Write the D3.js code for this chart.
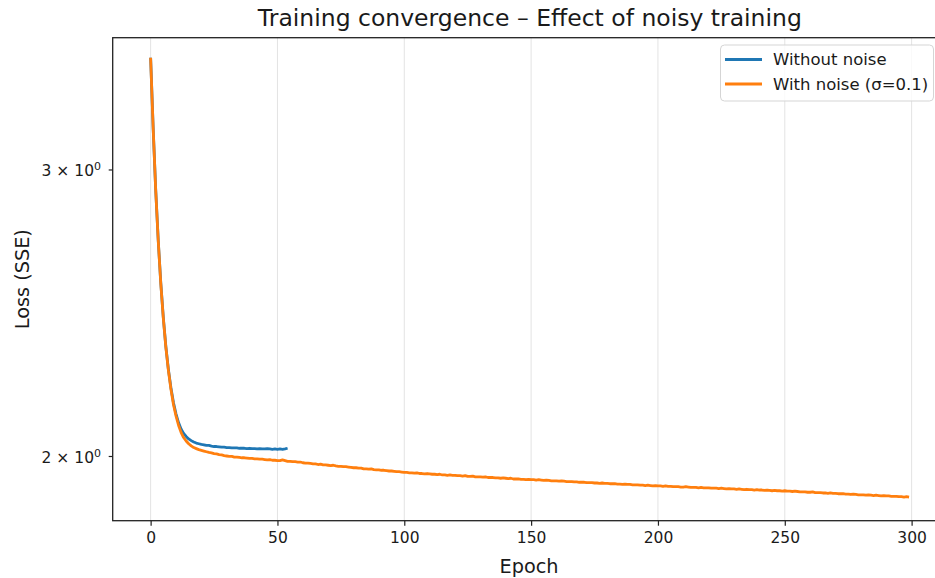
<!DOCTYPE html>
<html lang="en">
<head>
<meta charset="utf-8" />
<script src="https://cdn.jsdelivr.net/npm/d3@7"></script>
<style>
    body { margin: 0; background: #fff; }
    svg { display: block; overflow: hidden; }
    text { font-family: "DejaVu Sans", sans-serif; fill: #1a1a1a; }
</style>
</head>
<body>
<script>
// loss per epoch
var withoutNoise = [
    3.514, 3.182, 2.916, 2.714, 2.556, 2.433, 2.336, 2.261, 2.203, 2.157,
    2.123, 2.097, 2.078, 2.065, 2.056, 2.049, 2.044, 2.040, 2.037, 2.035,
    2.033, 2.032, 2.030, 2.030, 2.028, 2.027, 2.027, 2.026, 2.025, 2.025,
    2.024, 2.024, 2.023, 2.023, 2.023, 2.022, 2.022, 2.022, 2.021, 2.022,
    2.021, 2.021, 2.020, 2.021, 2.020, 2.020, 2.021, 2.020, 2.019, 2.020,
    2.019, 2.020, 2.019, 2.020, 2.022
];

var withNoise = [
    3.514, 3.181, 2.914, 2.712, 2.554, 2.431, 2.333, 2.258, 2.199, 2.151,
    2.117, 2.089, 2.068, 2.053, 2.043, 2.035, 2.029, 2.024, 2.021, 2.018,
    2.016, 2.014, 2.012, 2.010, 2.009, 2.007, 2.006, 2.004, 2.003, 2.001,
    2.000, 1.999, 1.999, 1.997, 1.997, 1.996, 1.995, 1.995, 1.994, 1.993,
    1.993, 1.992, 1.992, 1.991, 1.991, 1.990, 1.989, 1.990, 1.988, 1.988,
    1.987, 1.987, 1.989, 1.987, 1.985, 1.985, 1.984, 1.984, 1.983, 1.983,
    1.981, 1.980, 1.980, 1.979, 1.978, 1.978, 1.976, 1.977, 1.975, 1.975,
    1.974, 1.973, 1.974, 1.972, 1.971, 1.971, 1.970, 1.970, 1.969, 1.968,
    1.967, 1.967, 1.966, 1.966, 1.964, 1.964, 1.963, 1.964, 1.962, 1.961,
    1.961, 1.960, 1.960, 1.959, 1.958, 1.958, 1.957, 1.956, 1.956, 1.955,
    1.954, 1.954, 1.953, 1.953, 1.952, 1.953, 1.951, 1.951, 1.950, 1.951,
    1.950, 1.949, 1.949, 1.948, 1.949, 1.947, 1.947, 1.946, 1.947, 1.946,
    1.946, 1.945, 1.945, 1.944, 1.945, 1.943, 1.943, 1.944, 1.942, 1.942,
    1.942, 1.941, 1.942, 1.940, 1.940, 1.940, 1.939, 1.939, 1.938, 1.939,
    1.938, 1.937, 1.938, 1.936, 1.936, 1.936, 1.935, 1.935, 1.934, 1.935,
    1.934, 1.934, 1.933, 1.934, 1.933, 1.932, 1.933, 1.932, 1.931, 1.931,
    1.931, 1.930, 1.931, 1.930, 1.929, 1.929, 1.929, 1.928, 1.928, 1.927,
    1.927, 1.927, 1.926, 1.926, 1.926, 1.925, 1.925, 1.924, 1.925, 1.924,
    1.924, 1.923, 1.923, 1.923, 1.922, 1.922, 1.921, 1.922, 1.921, 1.921,
    1.920, 1.920, 1.920, 1.919, 1.919, 1.918, 1.919, 1.918, 1.917, 1.918,
    1.917, 1.917, 1.916, 1.917, 1.916, 1.916, 1.915, 1.915, 1.915, 1.914,
    1.914, 1.915, 1.914, 1.913, 1.913, 1.913, 1.912, 1.913, 1.912, 1.912,
    1.912, 1.911, 1.911, 1.911, 1.910, 1.911, 1.910, 1.909, 1.910, 1.909,
    1.909, 1.908, 1.909, 1.908, 1.907, 1.908, 1.907, 1.907, 1.906, 1.907,
    1.906, 1.906, 1.905, 1.906, 1.905, 1.904, 1.905, 1.904, 1.904, 1.903,
    1.904, 1.903, 1.903, 1.902, 1.903, 1.902, 1.901, 1.901, 1.901, 1.900,
    1.900, 1.901, 1.899, 1.899, 1.899, 1.898, 1.898, 1.897, 1.898, 1.897,
    1.897, 1.896, 1.896, 1.896, 1.895, 1.895, 1.894, 1.895, 1.894, 1.893,
    1.893, 1.893, 1.892, 1.893, 1.892, 1.891, 1.892, 1.891, 1.890, 1.891,
    1.890, 1.890, 1.889, 1.889, 1.889, 1.888, 1.888, 1.887, 1.888, 1.887
];

var seriesNames = ["Without noise", "With noise (\u03c3=0.1)"];
var seriesColors = ["#1f77b4", "#ff7f0e"];
var xTicks = [0, 50, 100, 150, 200, 250, 300];
var yTicks = [2, 3];

var width = 935,
    height = 578,
    plotLeft = 112.7,
    plotRight = 947,
    plotTop = 37.7,
    plotBottom = 520.7;

var svg = d3.select("body").append("svg")
    .attr("width", width)
    .attr("height", height);

var x = d3.scaleLinear().domain([-14.95, 313.95]).range([plotLeft, plotRight]);
var y = d3.scaleLog().domain([1.825, 3.615]).range([plotBottom, plotTop]);

// vertical grid
svg.append("g").selectAll("line")
    .data(xTicks)
    .enter().append("line")
    .attr("x1", function (d) { return x(d); })
    .attr("x2", function (d) { return x(d); })
    .attr("y1", plotTop)
    .attr("y2", plotBottom)
    .attr("stroke", "#e3e3e3")
    .attr("stroke-width", 1);

var line = d3.line()
    .x(function (d, i) { return x(i); })
    .y(function (d) { return y(d); });

svg.append("path")
    .datum(withoutNoise)
    .attr("d", line)
    .attr("fill", "none")
    .attr("stroke", seriesColors[0])
    .attr("stroke-width", 2.8)
    .attr("stroke-linejoin", "round");

svg.append("path")
    .datum(withNoise)
    .attr("d", line)
    .attr("fill", "none")
    .attr("stroke", seriesColors[1])
    .attr("stroke-width", 2.8)
    .attr("stroke-linejoin", "round");

// x axis
var xAxis = svg.append("g")
    .attr("transform", "translate(0," + plotBottom + ")")
    .call(d3.axisBottom(x).tickValues(xTicks).tickSize(5).tickPadding(6));
xAxis.select(".domain").remove();
xAxis.selectAll("line").attr("stroke", "#222").attr("stroke-width", 1.2);
xAxis.selectAll("text").style("font-size", "15.5px").attr("fill", "#1a1a1a")
    .style("font-family", "'DejaVu Sans', sans-serif");

// y axis, log ticks written as a x 10^0
var yAxis = svg.append("g")
    .attr("transform", "translate(" + plotLeft + ",0)")
    .call(d3.axisLeft(y).tickValues(yTicks).tickSize(4).tickPadding(6).tickFormat(""));
yAxis.select(".domain").remove();
yAxis.selectAll("line").attr("stroke", "#222").attr("stroke-width", 1.2);

var yLab = svg.append("g").selectAll("text")
    .data(yTicks)
    .enter().append("text")
    .attr("x", 101)
    .attr("y", function (d) { return y(d); })
    .attr("dy", "0.42em")
    .attr("text-anchor", "end")
    .style("font-size", "15.5px");
yLab.append("tspan").text(function (d) { return d + " \u00d7 10"; });
yLab.append("tspan")
    .attr("dy", "-0.5em")
    .style("font-size", "11px")
    .text("0");

// spines (right one lies outside the picture)
svg.append("rect")
    .attr("x", plotLeft)
    .attr("y", plotTop)
    .attr("width", plotRight - plotLeft)
    .attr("height", plotBottom - plotTop)
    .attr("fill", "none")
    .attr("stroke", "#222")
    .attr("stroke-width", 1.3);

// titles
svg.append("text")
    .attr("x", (plotLeft + plotRight) / 2)
    .attr("y", 26)
    .attr("text-anchor", "middle")
    .style("font-size", "23.5px")
    .text("Training convergence \u2013 Effect of noisy training");

svg.append("text")
    .attr("x", 529)
    .attr("y", 573)
    .attr("text-anchor", "middle")
    .style("font-size", "19.3px")
    .text("Epoch");

svg.append("text")
    .attr("transform", "translate(29," + ((plotTop + plotBottom) / 2) + ") rotate(-90)")
    .attr("text-anchor", "middle")
    .style("font-size", "19.3px")
    .text("Loss (SSE)");

// legend
var legend = svg.append("g");
legend.append("rect")
    .attr("x", 720.5)
    .attr("y", 45)
    .attr("width", 213)
    .attr("height", 56)
    .attr("rx", 4)
    .attr("fill", "#fff")
    .attr("fill-opacity", 0.8)
    .attr("stroke", "#d5d5d5")
    .attr("stroke-width", 1);

var item = legend.selectAll(".item")
    .data(seriesNames)
    .enter().append("g")
    .attr("transform", function (d, i) { return "translate(0," + (59.5 + i * 24.5) + ")"; });
item.append("line")
    .attr("x1", 725)
    .attr("x2", 762)
    .attr("stroke", function (d, i) { return seriesColors[i]; })
    .attr("stroke-width", 2.8);
item.append("text")
    .attr("x", 773)
    .attr("dy", "0.36em")
    .style("font-size", "16.5px")
    .text(function (d) { return d; });
</script>
</body>
</html>
